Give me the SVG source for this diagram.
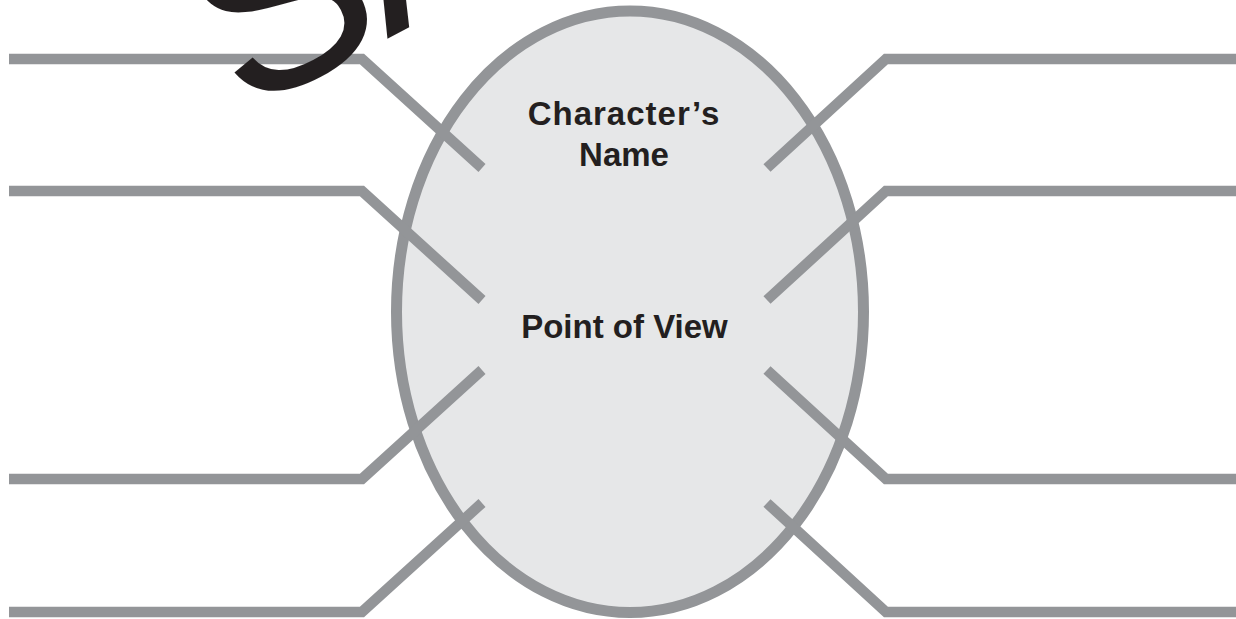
<svg xmlns="http://www.w3.org/2000/svg" width="1236" height="619" viewBox="0 0 1236 619">
<style>
.bg{fill:#ffffff}
.oval{fill:#e6e7e8;stroke:#939598;stroke-width:11}
.ln{fill:none;stroke:#939598;stroke-width:10.5;stroke-linejoin:miter;stroke-linecap:butt}
.lbl{font-family:"Liberation Sans",Arial,sans-serif;font-weight:bold;font-size:33px;fill:#231f20;text-anchor:middle}
.wm{font-family:"Liberation Sans",Arial,sans-serif;font-size:255px;fill:#231f20}
</style>
<rect class="bg" x="0" y="0" width="1236" height="619"/>
<g id="center-oval">
<ellipse class="oval" cx="630" cy="311.75" rx="233.5" ry="300.75"/>
</g>
<g id="connectors">
<polyline class="ln" points="9,59 362,59 482,168"/>
<polyline class="ln" points="9,191 362,191 482,300"/>
<polyline class="ln" points="9,479 362,479 482,370"/>
<polyline class="ln" points="9,612 362,612 482,503"/>
<polyline class="ln" points="1240,59 886,59 767,168"/>
<polyline class="ln" points="1240,191 886,191 767,300"/>
<polyline class="ln" points="1240,479 886,479 767,370"/>
<polyline class="ln" points="1240,612 886,612 767,503"/>
</g>
<g id="label-name">
<text class="lbl" x="624" y="125" letter-spacing="1">Character’s</text>
<text class="lbl" x="624" y="166">Name</text>
</g>
<g id="label-pov">
<text class="lbl" x="624.5" y="338">Point of View</text>
</g>
<g id="watermark">
<text class="wm" letter-spacing="-8" transform="translate(244,115) rotate(-28)">SAMPLE</text>
</g>
</svg>
